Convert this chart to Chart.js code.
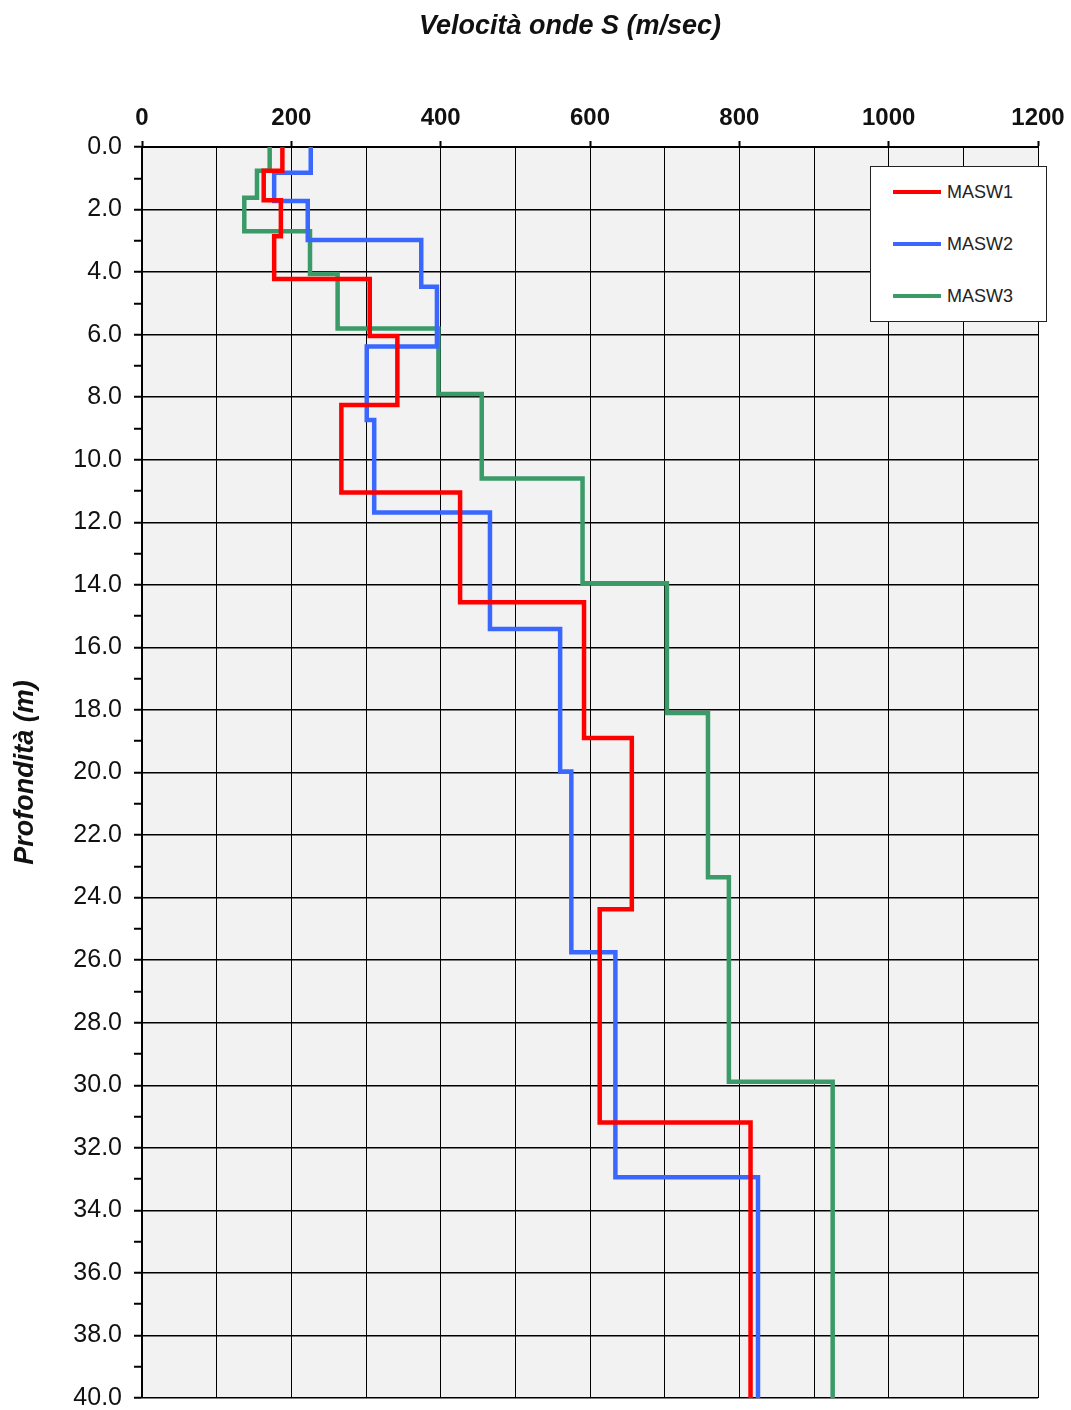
<!DOCTYPE html>
<html>
<head>
<meta charset="utf-8">
<script src="https://cdn.jsdelivr.net/npm/chart.js@4/dist/chart.umd.min.js"></script>
<style>
  body { margin: 0; background: #fff; }
  #wrap { position: relative; width: 1071px; height: 1410px; }
  #title {
    position: absolute; left: 370px; width: 400px; top: 8px; text-align: center;
    font-family: "Liberation Sans", Arial, sans-serif; font-size: 27px; font-weight: bold;
    font-style: italic; color: #111; line-height: 34px; white-space: nowrap;
  }
  #legend {
    position: absolute; left: 870px; top: 166px; width: 175px; height: 154px;
    background: #fff; border: 1px solid #222; font-family: "Liberation Sans", Arial, sans-serif;
    font-size: 18px; color: #222;
  }
  .item { position: absolute; left: 22px; height: 20px; line-height: 20px; }
  .item span.line { position: absolute; left: 0; top: 8px; width: 48px; height: 4px; }
  .item span.txt { position: absolute; left: 54px; top: 0; white-space: nowrap; }
</style>
</head>
<body>
<div id="wrap">
  <canvas id="vsChart"></canvas>
  <div id="title">Velocità onde S (m/sec)</div>
  <div id="legend"></div>
</div>
<script>
// Nomi dei profili e colori
const seriesNames = ['MASW1', 'MASW2', 'MASW3'];
const seriesColors = ['#ff0000', '#3a68ff', '#3a9a68'];

// Profondità dei limiti di strato (m)
const depthsMasw1 = [0, 0.76, 1.7, 2.85, 4.22, 6.04, 8.25, 11.05, 14.56, 18.9, 24.37, 31.19, 40];
const depthsMasw2 = [0, 0.82, 1.73, 2.97, 4.47, 6.38, 8.73, 11.69, 15.41, 19.97, 25.75, 32.94, 40];
const depthsMasw3 = [0, 0.76, 1.62, 2.69, 4.06, 5.8, 7.9, 10.6, 13.95, 18.1, 23.35, 29.89, 40];

// Velocità Vs di ogni strato (m/sec)
const vsMasw1 = [188, 163, 186, 177, 305, 342, 267, 426, 592, 656, 613, 815];
const vsMasw2 = [226, 177, 222, 374, 395, 301, 311, 466, 560, 575, 634, 825];
const vsMasw3 = [171, 154, 137, 225, 262, 397, 455, 590, 703, 758, 786, 925];

// Assi
const xTicks = [0, 200, 400, 600, 800, 1000, 1200];
const yMax = 40;

// Costruisce il profilo a gradini: due punti per strato
function stepProfile(depths, vs) {
    const pts = [];
    vs.forEach((v, i) => {
        pts.push({ x: v, y: depths[i] });
        pts.push({ x: v, y: depths[i + 1] });
    });
    return pts;
}

const profiles = [
    stepProfile(depthsMasw1, vsMasw1),
    stepProfile(depthsMasw2, vsMasw2),
    stepProfile(depthsMasw3, vsMasw3)
];

const datasets = seriesNames.map((name, i) => ({
    label: name,
    data: profiles[i],
    showLine: true,
    borderColor: seriesColors[i],
    backgroundColor: seriesColors[i],
    borderWidth: 4.5,
    pointRadius: 0,
    tension: 0
}));

// Sfondo grigio dell'area del grafico
const plotBg = {
    id: 'plotBg',
    beforeDraw(chart) {
        const { ctx, chartArea: a } = chart;
        ctx.save();
        ctx.fillStyle = '#f2f2f2';
        ctx.fillRect(a.left, a.top, a.right - a.left, a.bottom - a.top);
        ctx.restore();
    }
};

const ctx = document.getElementById('vsChart').getContext('2d');
new Chart(ctx, {
    type: 'scatter',
    data: { datasets },
    plugins: [plotBg],
    options: {
        responsive: true,
        maintainAspectRatio: false,
        animation: false,
        layout: { padding: { left: 0, right: 33, top: 0, bottom: 12 } },
        plugins: {
            legend: { display: false },
            tooltip: { enabled: false }
        },
        scales: {
            x: {
                type: 'linear',
                position: 'top',
                min: 0,
                max: 1200,
                afterFit(scale) {
                    scale.height = 147;
                    scale.paddingLeft = 0;
                    scale.paddingRight = 0;
                },
                ticks: {
                    stepSize: 100,
                    autoSkip: false,
                    maxRotation: 0,
                    padding: 8,
                    color: '#111',
                    font: { family: '"Liberation Sans", Arial, sans-serif', size: 24, weight: 'bold' },
                    callback: v => (xTicks.includes(v) ? String(v) : '')
                },
                grid: {
                    color: '#000',
                    lineWidth: 1,
                    tickLength: 6,
                    tickColor: c => (c.tick && c.tick.value % 200 === 0 ? '#000' : 'rgba(0,0,0,0)'),
                    tickWidth: 2
                },
                border: { display: true, color: '#000', width: 2 }
            },
            y: {
                type: 'linear',
                reverse: true,
                min: 0,
                max: yMax,
                afterFit(scale) {
                    scale.width = 142;
                    scale.paddingTop = 0;
                    scale.paddingBottom = 0;
                },
                title: {
                    display: true,
                    text: 'Profondità (m)',
                    color: '#111',
                    font: { family: '"Liberation Sans", Arial, sans-serif', size: 27, weight: 'bold', style: 'italic' },
                    padding: { top: 9, bottom: 0 }
                },
                ticks: {
                    stepSize: 1,
                    autoSkip: false,
                    padding: 12,
                    color: '#111',
                    font: { family: '"Liberation Sans", Arial, sans-serif', size: 25 },
                    callback: v => (v % 2 === 0 ? v.toFixed(1) : '')
                },
                grid: {
                    color: c => (c.tick && c.tick.value % 2 === 0 ? '#000' : 'rgba(0,0,0,0)'),
                    lineWidth: 1.5,
                    tickLength: 8,
                    tickColor: '#000',
                    tickWidth: 2
                },
                border: { display: true, color: '#000', width: 2 }
            }
        }
    }
});

// Legenda dentro il grafico
const legend = document.getElementById('legend');
seriesNames.forEach((name, i) => {
    const item = document.createElement('div');
    item.className = 'item';
    item.style.top = (15 + i * 52) + 'px';
    item.innerHTML = '<span class="line" style="background:' + seriesColors[i] + '"></span><span class="txt">' + name + '</span>';
    legend.appendChild(item);
});
</script>
</body>
</html>
